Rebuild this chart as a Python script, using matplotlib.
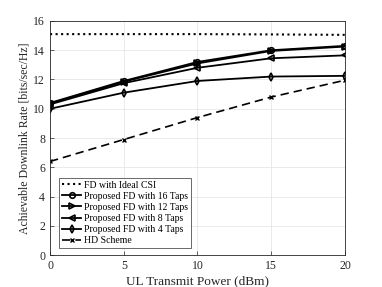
import numpy as np
import matplotlib
matplotlib.use('Agg')
import matplotlib.pyplot as plt

plt.rcParams['font.family'] = ['Liberation Serif', 'DejaVu Serif']
plt.rcParams['mathtext.fontset'] = 'stix'

# UL 發射功率 (dBm)
power = [0, 5, 10, 15, 20]

# 各方案的下行速率
ideal_csi = [15.1, 15.1, 15.1, 15.08, 15.05]
taps_16 = [10.4, 11.9, 13.2, 14.0, 14.3]
taps_12 = [10.35, 11.85, 13.1, 13.95, 14.25]
taps_8 = [10.3, 11.75, 12.8, 13.45, 13.65]
taps_4 = [10.0, 11.1, 11.9, 12.2, 12.25]
hd = [6.4, 7.9, 9.4, 10.8, 11.95]

labels = ['FD with Ideal CSI', 'Proposed FD with 16 Taps', 'Proposed FD with 12 Taps',
          'Proposed FD with 8 Taps', 'Proposed FD with 4 Taps', 'HD Scheme']

fig = plt.figure(figsize=(3.82, 2.87), dpi=100)
ax = fig.add_axes([0.131, 0.111, 0.772, 0.816])

ax.plot(power, ideal_csi, color='black', linestyle=':', linewidth=1.5, label=labels[0])
ax.plot(power, taps_16, color='black', linewidth=1.3, marker='o', markersize=4,
        markerfacecolor='none', markeredgewidth=1.2, label=labels[1])
ax.plot(power, taps_12, color='black', linewidth=1.3, marker='>', markersize=4,
        markerfacecolor='none', markeredgewidth=1.2, label=labels[2])
ax.plot(power, taps_8, color='black', linewidth=1.3, marker='<', markersize=4,
        markerfacecolor='none', markeredgewidth=1.2, label=labels[3])
ax.plot(power, taps_4, color='black', linewidth=1.3, marker='d', markersize=4,
        markerfacecolor='none', markeredgewidth=1.2, label=labels[4])
ax.plot(power, hd, color='black', linestyle=(0, (5, 3)), linewidth=1.2, marker='x',
        markersize=3, markeredgewidth=1.0, label=labels[5])

ax.set_xlim(0, 20)
ax.set_ylim(0, 16)
ax.set_xticks([0, 5, 10, 15, 20])
ax.set_yticks([0, 2, 4, 6, 8, 10, 12, 14, 16])
ax.tick_params(labelsize=8.5, direction='in', length=3, width=0.5, colors='#262626')
ax.grid(True, color='#e6e6e6', linewidth=0.6)
for s in ax.spines.values():
    s.set_linewidth(0.6)
    s.set_color('#262626')

ax.set_xlabel('UL Transmit Power (dBm)', fontsize=9.5, color='#262626', labelpad=2)
ax.set_ylabel('Achievable Downlink Rate [bits/sec/Hz]', fontsize=8.5, color='#262626', labelpad=2)

leg = ax.legend(loc='lower left', bbox_to_anchor=(0.03, 0.03), borderaxespad=0.0,
                fontsize=7.0, frameon=True, fancybox=False,
                handlelength=2.0, handletextpad=0.3,
                labelspacing=0.22, borderpad=0.3)
leg.get_frame().set_edgecolor('#262626')
leg.get_frame().set_linewidth(0.6)

fig.savefig('out.png', dpi=100)
plt.close(fig)
